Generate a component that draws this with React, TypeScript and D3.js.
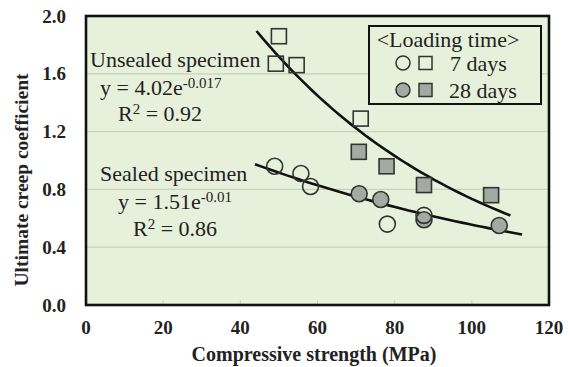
import * as d3 from "d3";

const W = 573;
const H = 367;

// unsealed specimen (squares)
const unsealed7X = [50.0, 49.2, 54.6, 71.2];
const unsealed7Y = [1.86, 1.67, 1.66, 1.29];
const unsealed28X = [70.7, 77.9, 87.6, 105.0];
const unsealed28Y = [1.06, 0.96, 0.83, 0.76];

// sealed specimen (circles)
const sealed7X = [48.9, 55.7, 58.2, 78.1, 87.6];
const sealed7Y = [0.96, 0.91, 0.82, 0.56, 0.62];
const sealed28X = [70.8, 76.4, 87.6, 107.1];
const sealed28Y = [0.77, 0.73, 0.59, 0.55];

// fitted curves y = a * e^(-b x), coefficients as printed on the chart
const unsealedFit = { a: 4.02, b: 0.017, from: 44.2, to: 110 };
const sealedFit = { a: 1.51, b: 0.01, from: 43.8, to: 113 };

const xTicks = [0, 20, 40, 60, 80, 100, 120];
const yTicks = [0, 0.4, 0.8, 1.2, 1.6, 2.0];

const bg = "#e6f0da";
const markFill = "#a3aaa1";
const markStroke = "#333";
const serif = "'Liberation Serif', 'Times New Roman', serif";

export default function App() {
  const x = d3.scaleLinear().domain([0, 120]).range([86, 549]);
  const y = d3.scaleLinear().domain([0, 2]).range([305, 16]);

  const fitPath = (f: { a: number; b: number; from: number; to: number }) => {
    const xs = d3.range(f.from, f.to + 0.01, (f.to - f.from) / 40);
    return d3
      .line<number>()
      .x((v) => x(v))
      .y((v) => y(f.a * Math.exp(-f.b * v)))(xs) as string;
  };

  const sq = 15;
  const r = 8;

  return (
    <svg width={W} height={H} style={{ position: "absolute", left: 0, top: 0, background: "#fff" }}>
      <rect x={x(0)} y={y(2)} width={x(120) - x(0)} height={y(0) - y(2)} fill={bg} />
      {yTicks.slice(1, -1).map((t) => (
        <line key={t} x1={x(0)} x2={x(120)} y1={y(t)} y2={y(t)} stroke="#c9d2bb" strokeWidth={1.2} />
      ))}
      {xTicks.slice(1, -1).map((t) => (
        <line key={t} x1={x(t)} x2={x(t)} y1={y(0)} y2={y(0) - 5} stroke="#c9d2bb" strokeWidth={1} />
      ))}

      {/* fitted curves */}
      <path d={fitPath(unsealedFit)} fill="none" stroke="#111" strokeWidth={2.6} />
      <path d={fitPath(sealedFit)} fill="none" stroke="#111" strokeWidth={2.6} />

      {/* squares */}
      {unsealed7X.map((v, i) => (
        <rect key={"u7" + i} x={x(v) - sq / 2} y={y(unsealed7Y[i]) - sq / 2} width={sq} height={sq}
          fill="none" stroke={markStroke} strokeWidth={1.6} />
      ))}
      {unsealed28X.map((v, i) => (
        <rect key={"u28" + i} x={x(v) - sq / 2} y={y(unsealed28Y[i]) - sq / 2} width={sq} height={sq}
          fill={markFill} stroke={markStroke} strokeWidth={1.6} />
      ))}
      {/* circles */}
      {sealed28X.map((v, i) => (
        <circle key={"s28" + i} cx={x(v)} cy={y(sealed28Y[i])} r={r} fill={markFill} stroke={markStroke} strokeWidth={1.6} />
      ))}
      {sealed7X.map((v, i) => (
        <circle key={"s7" + i} cx={x(v)} cy={y(sealed7Y[i])} r={r} fill="none" stroke={markStroke} strokeWidth={1.6} />
      ))}

      {/* plot border */}
      <rect x={x(0)} y={y(2)} width={x(120) - x(0)} height={y(0) - y(2)} fill="none" stroke="#111" strokeWidth={2.6} />

      {/* annotations */}
      <g fontFamily={serif} fill="#222" fontSize={22}>
        <text x={90} y={67}>Unsealed specimen</text>
        <text x={100} y={95}>
          y = 4.02e<tspan dy={-7} fontSize={15}>-0.017</tspan>
        </text>
        <text x={118} y={121}>
          R<tspan dy={-7} fontSize={15}>2</tspan><tspan dy={7}> = 0.92</tspan>
        </text>
        <text x={100} y={181}>Sealed specimen</text>
        <text x={118} y={209}>
          y = 1.51e<tspan dy={-7} fontSize={15}>-0.01</tspan>
        </text>
        <text x={133} y={236}>
          R<tspan dy={-7} fontSize={15}>2</tspan><tspan dy={7}> = 0.86</tspan>
        </text>
      </g>

      {/* legend */}
      <rect x={369} y={26} width={172} height={78} fill={bg} stroke="#111" strokeWidth={2} />
      <g fontFamily={serif} fill="#222" fontSize={22}>
        <text x={448} y={47} textAnchor="middle">&lt;Loading time&gt;</text>
        <circle cx={403} cy={63} r={7} fill="none" stroke={markStroke} strokeWidth={1.5} />
        <rect x={419} y={56.5} width={13} height={13} fill="none" stroke={markStroke} strokeWidth={1.5} />
        <text x={450} y={71}>7 days</text>
        <circle cx={403} cy={90} r={7} fill={markFill} stroke={markStroke} strokeWidth={1.5} />
        <rect x={419} y={83.5} width={13} height={13} fill={markFill} stroke={markStroke} strokeWidth={1.5} />
        <text x={449} y={98}>28 days</text>
      </g>

      {/* axes labels */}
      <g fontFamily={serif} fontWeight="bold" fill="#222" fontSize={19}>
        {yTicks.map((t) => (
          <text key={t} x={66} y={y(t)} dy="0.35em" textAnchor="end">{t.toFixed(1)}</text>
        ))}
        {xTicks.map((t) => (
          <text key={t} x={x(t)} y={334} textAnchor="middle">{t}</text>
        ))}
        <text x={314} y={361} textAnchor="middle" fontSize={20}>Compressive strength (MPa)</text>
        <text transform="translate(28,180) rotate(-90)" textAnchor="middle" fontSize={19.5}>Ultimate creep coefficient</text>
      </g>
    </svg>
  );
}
